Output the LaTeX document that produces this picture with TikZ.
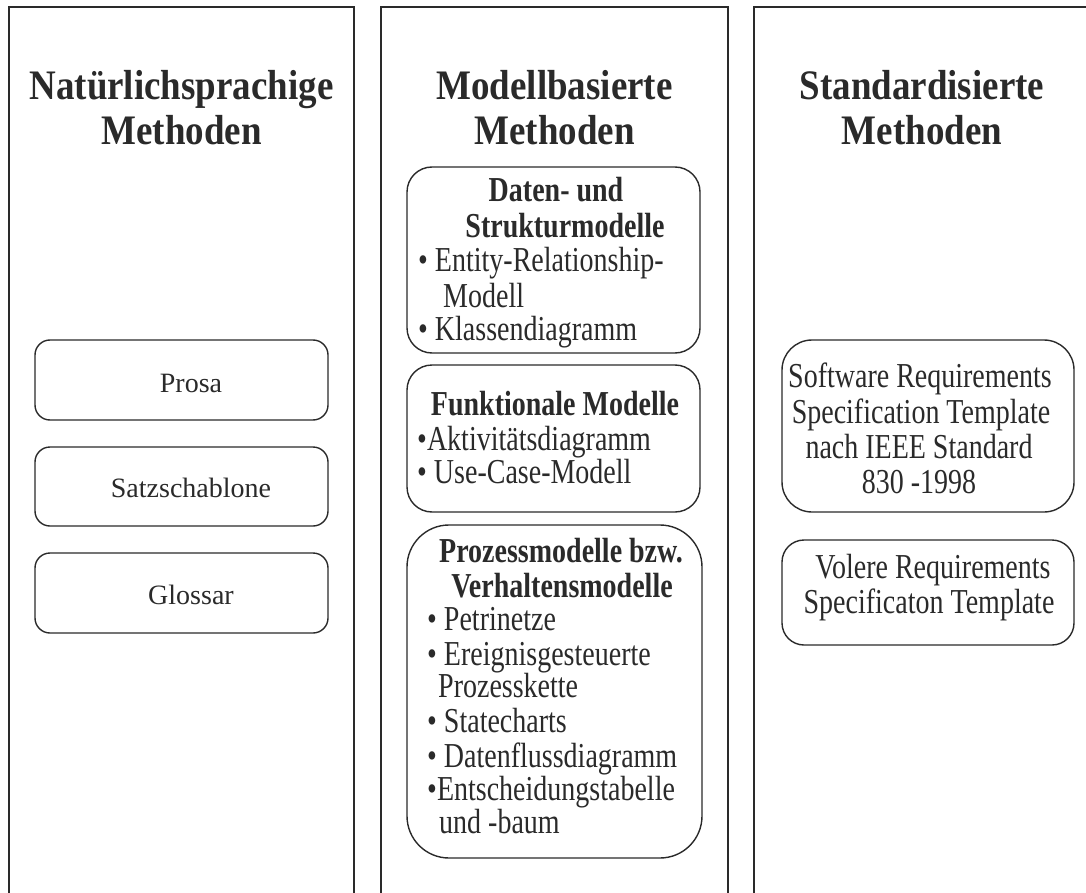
\documentclass[tikz,border=0pt]{standalone}
\usepackage{fontspec}
\setmainfont{Liberation Serif}
\newfontfamily\titlefam[FakeStretch=0.88]{Liberation Serif}
\newfontfamily\narrowfam[FakeStretch=0.8]{Liberation Serif}
\definecolor{ink}{HTML}{2A2A2A}
\begin{document}
\begin{tikzpicture}[x=1pt,y=-1pt,
  column/.style={draw=ink, line width=1.5pt},
  card/.style={draw=ink, line width=1.4pt, rounded corners=#1, inner sep=0pt},
  card/.default=20pt,
  title/.style={font=\titlefam\bfseries\fontsize{42}{45}\selectfont, anchor=base, inner sep=0pt, text=ink},
  plain/.style={font=\fontsize{28}{30}\selectfont, anchor=base, inner sep=0pt, text=ink},
  head/.style={font=\narrowfam\bfseries\fontsize{35}{35}\selectfont, anchor=base, inner sep=0pt, text=ink},
  item/.style={font=\narrowfam\fontsize{35}{35}\selectfont, anchor=base west, inner sep=0pt, text=ink},
  ctext/.style={font=\narrowfam\fontsize{35}{35}\selectfont, anchor=base, inner sep=0pt, text=ink},
]
\clip (0,0) rectangle (1086,893);

% three open-bottom columns
\draw[column] (9,900) -- (9,7) -- (354,7) -- (354,900);
\draw[column] (381,900) -- (381,7) -- (728,7) -- (728,900);
\draw[column] (754,900) -- (754,7) -- (1100,7) -- (1100,900);

% column titles
\node[title] (tl1) at (181.5,100) {Natürlichsprachige};
\node[title] (tl2) at (181.5,145) {Methoden};
\node[title] (tm1) at (554.5,100) {Modellbasierte};
\node[title] (tm2) at (554.5,145) {Methoden};
\node[title] (tr1) at (922,100) {Standardisierte};
\node[title] (tr2) at (922,145) {Methoden};

% natural-language methods
\node[card=15pt, minimum width=293pt, minimum height=80pt] (prosa) at (181.5,380) {};
\node[card=15pt, minimum width=293pt, minimum height=79pt] (satz) at (181.5,486.5) {};
\node[card=15pt, minimum width=293pt, minimum height=80pt] (gloss) at (181.5,593) {};
\node[plain] (prosaT) at (191,392) {Prosa};
\node[plain] (satzT) at (191,497) {Satzschablone};
\node[plain] (glossT) at (191,604) {Glossar};

% model-based methods
\node[card=25pt, minimum width=293pt, minimum height=186pt] (daten) at (553.5,260) {};
\node[head] (d1) at (556,202) {Daten- und};
\node[head] (d2) at (565,237) {Strukturmodelle};
\node[item] (d3) at (418,272) {• Entity-Relationship-};
\node[item] (d4) at (443,307) {Modell};
\node[item] (d5) at (418,340) {• Klassendiagramm};

\node[card=25pt, minimum width=293pt, minimum height=147pt] (funk) at (553.5,438.5) {};
\node[head] (f1) at (555,415) {Funktionale Modelle};
\node[item] (f2) at (417,450) {•Aktivitätsdiagramm};
\node[item] (f3) at (417,483) {• Use-Case-Modell};

\node[card=42pt, minimum width=295pt, minimum height=333pt] (proz) at (554.5,691.5) {};
\node[head] (p1) at (561,562) {Prozessmodelle bzw.};
\node[head] (p2) at (562,597) {Verhaltensmodelle};
\node[item] (p3) at (427,630) {• Petrinetze};
\node[item] (p4) at (427,665) {• Ereignisgesteuerte};
\node[item] (p5) at (438,697) {Prozesskette};
\node[item] (p6) at (427,732) {• Statecharts};
\node[item] (p7) at (427,767) {• Datenflussdiagramm};
\node[item] (p8) at (427,800) {•Entscheidungstabelle};
\node[item] (p9) at (439,833) {und -baum};

% standardised methods
\node[card=30pt, minimum width=292pt, minimum height=172pt] (srs) at (928,426) {};
\node[ctext] (s1) at (920,387) {Software Requirements};
\node[ctext] (s2) at (921,423) {Specification Template};
\node[ctext] (s3) at (919,458) {nach IEEE Standard};
\node[ctext] (s4) at (919,493) {830 -1998};

\node[card=22pt, minimum width=292pt, minimum height=105pt] (volere) at (928,592.5) {};
\node[ctext] (v1) at (933,578) {Volere Requirements};
\node[ctext] (v2) at (929,613) {Specificaton Template};
\end{tikzpicture}
\end{document}
